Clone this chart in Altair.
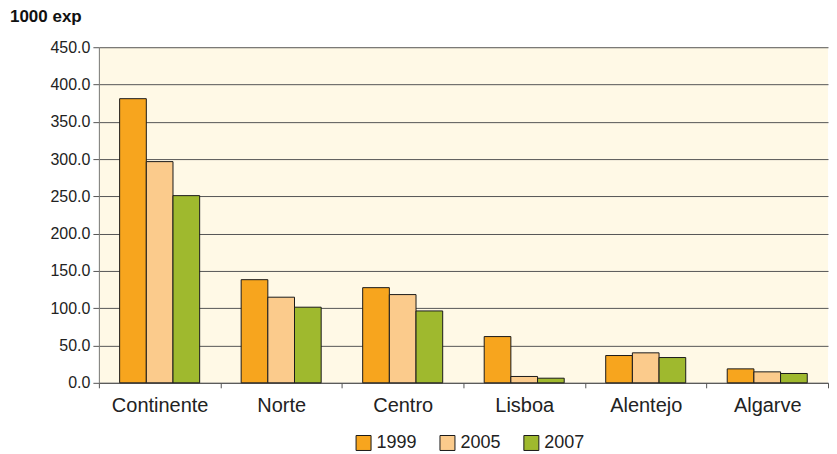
import altair as alt
import pandas as pd

regions = ["Continente", "Norte", "Centro", "Lisboa", "Alentejo", "Algarve"]
years = ["1999", "2005", "2007"]
v1999 = [381.0, 138.3, 127.6, 62.0, 36.6, 18.7]
v2005 = [296.6, 114.8, 118.3, 8.5, 40.2, 14.7]
v2007 = [251.0, 101.4, 96.4, 6.2, 33.9, 12.5]
colors = ["#F7A51E", "#FBCB8C", "#9FB92E"]
y_ticks = [0, 50, 100, 150, 200, 250, 300, 350, 400, 450]

rows = []
for yr, vals in zip(years, [v1999, v2005, v2007]):
    for r, v in zip(regions, vals):
        rows.append({"region": r, "year": yr, "value": v})
df = pd.DataFrame(rows)

font = "Liberation Sans"

chart = alt.Chart(df).mark_bar(stroke="#1a1a1a", strokeWidth=1).encode(
    x=alt.X("region:N", sort=regions,
            scale=alt.Scale(paddingInner=0, paddingOuter=0),
            axis=alt.Axis(title=None, labelAngle=0, labelFontSize=20, labelColor="#222",
                          labelFont=font, labelPadding=8, tickBand="extent",
                          tickSize=5, tickColor="#555", domainColor="#555", grid=False)),
    xOffset=alt.XOffset("year:N", sort=years,
                        scale=alt.Scale(paddingOuter=0.778, paddingInner=0)),
    y=alt.Y("value:Q", scale=alt.Scale(domain=[0, 450], nice=False),
            axis=alt.Axis(title=None, values=y_ticks, format=".1f", labelFontSize=16,
                          labelColor="#222", labelFont=font, tickSize=6, tickColor="#555",
                          domainColor="#777", gridColor="#555", gridWidth=1,
                          labelPadding=3, minExtent=91, maxExtent=91)),
    color=alt.Color("year:N", sort=years,
                    scale=alt.Scale(domain=years, range=colors),
                    legend=alt.Legend(title=None, orient="none", direction="horizontal",
                                      legendX=256, legendY=387, symbolType="square",
                                      symbolSize=225, symbolStrokeColor="#1a1a1a",
                                      symbolStrokeWidth=1, symbolOpacity=1,
                                      labelFontSize=18, labelFont=font, labelColor="#222",
                                      columnPadding=20, labelOffset=4)),
).properties(
    width=730, height=336,
    title=alt.Title("1000 exp", anchor="start", frame="group", fontSize=17,
                    fontWeight="bold", font=font, color="#111", dx=-89, offset=13),
    padding={"left": 0, "top": 0, "right": 0, "bottom": 0},
).configure_view(fill="#FFF9E6", stroke=None)

chart.save("out.html", embed_options={"renderer": "svg", "actions": False})
